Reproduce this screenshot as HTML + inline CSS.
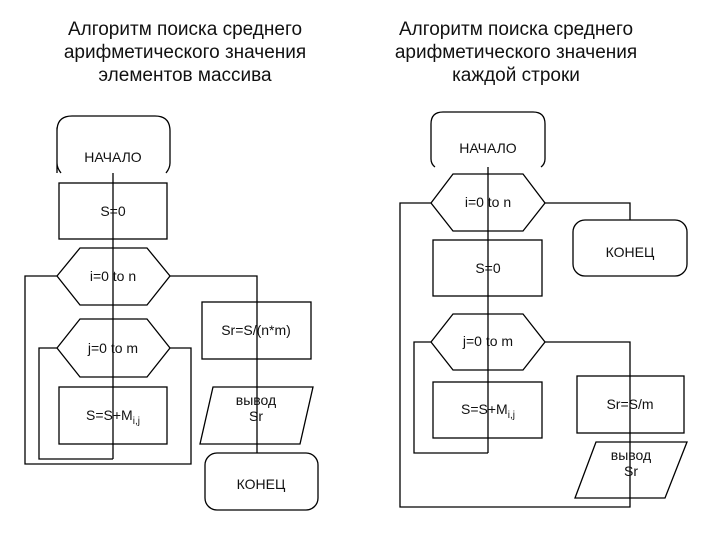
<!DOCTYPE html>
<html><head><meta charset="utf-8"><style>
body{margin:0;background:#fff}
svg text{font-family:"Liberation Sans",sans-serif;fill:#111}
</style></head><body>
<svg width="720" height="540" viewBox="0 0 720 540" xmlns="http://www.w3.org/2000/svg">
<g font-size="19" text-anchor="middle">
<text x="185" y="35">Алгоритм поиска среднего</text>
<text x="185" y="58">арифметического значения</text>
<text x="185" y="81">элементов массива</text>
<text x="516" y="35">Алгоритм поиска среднего</text>
<text x="516" y="58">арифметического значения</text>
<text x="516" y="81">каждой строки</text>
</g>
<g fill="none" stroke="#000" stroke-width="1.3">
<path d="M57,173 Q57,116 57,131 Q57,116 72,116 L155,116 Q170,116 170,131 L170,163 Q170,168 166,173 M57,163 Q57,168 61,173"/>
<rect x="59" y="183" width="108" height="56"/>
<polygon points="57,276 80,248 147,248 170,276 147,305 80,305"/>
<polygon points="57,348 80,319 147,319 170,348 147,377 80,377"/>
<rect x="59" y="387" width="108" height="57"/>
<line x1="113" y1="173" x2="113" y2="459"/>
<polyline points="170,276 257,276 257,453"/>
<polyline points="57,276 25,276 25,464 191,464 191,348 170,348"/>
<polyline points="57,348 39,348 39,459 113,459"/>
<rect x="202" y="302" width="109" height="57"/>
<polygon points="213,387 313,387 300,444 200,444"/>
<rect x="205" y="453" width="113" height="57" rx="12"/>
<path d="M431,159 L431,124 Q431,112 443,112 L533,112 Q545,112 545,124 L545,159 Q545,164 541,167 M431,159 Q431,164 435,167"/>
<polygon points="431,203 453,174 523,174 545,203 523,231 453,231"/>
<rect x="573" y="220" width="114" height="56" rx="12"/>
<rect x="433" y="240" width="109" height="56"/>
<polygon points="431,342 453,314 523,314 545,342 523,370 453,370"/>
<rect x="433" y="382" width="109" height="56"/>
<line x1="488" y1="167" x2="488" y2="453"/>
<polyline points="545,203 630,203 630,220"/>
<polyline points="431,203 400,203 400,507 630,507 630,342 545,342"/>
<polyline points="431,342 414,342 414,453 488,453"/>
<rect x="577" y="376" width="107" height="57"/>
<polygon points="596,442 687,442 665,498 575,498"/>
</g>
<g font-size="14" text-anchor="middle">
<text x="113" y="162">НАЧАЛО</text>
<text x="113" y="216">S=0</text>
<text x="113" y="281">i=0 to n</text>
<text x="113" y="353">j=0 to m</text>
<text x="113" y="420">S=S+M<tspan font-size="10" dy="4">i,j</tspan></text>
<text x="256" y="335">Sr=S/(n*m)</text>
<text x="256" y="405">вывод</text>
<text x="256" y="421">Sr</text>
<text x="261" y="489">КОНЕЦ</text>
<text x="488" y="153">НАЧАЛО</text>
<text x="488" y="207">i=0 to n</text>
<text x="630" y="257">КОНЕЦ</text>
<text x="488" y="273">S=0</text>
<text x="488" y="346">j=0 to m</text>
<text x="488" y="414">S=S+M<tspan font-size="10" dy="4">i,j</tspan></text>
<text x="630" y="409">Sr=S/m</text>
<text x="631" y="460">вывод</text>
<text x="631" y="476">Sr</text>
</g>
</svg>
</body></html>
